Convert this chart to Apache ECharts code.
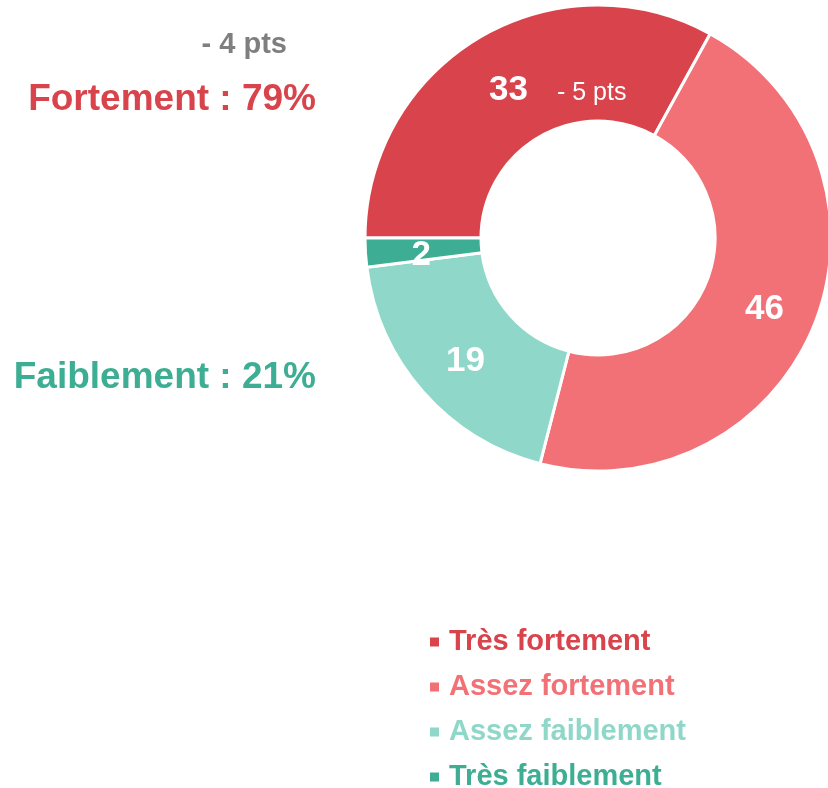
<!DOCTYPE html>
<html>
<head>
<meta charset="utf-8">
<script src="https://cdn.jsdelivr.net/npm/echarts@6/dist/echarts.min.js"></script>
<style>
  html, body { margin: 0; padding: 0; background: #fff; }
  #chart { width: 828px; height: 788px; }
</style>
</head>
<body>
<div id="chart"></div>
<script>
// data
const categories = ['Très fortement', 'Assez fortement', 'Assez faiblement', 'Très faiblement'];
const values = [33, 46, 19, 2];
const colors = ['#D9434B', '#F27176', '#8FD7C8', '#3DAE93'];
const groupLabels = ['Fortement : 79%', 'Faiblement : 21%'];
const deltaTotal = '- 4 pts';
const deltaFirst = '- 5 pts';

const font = '"Liberation Sans", Arial, sans-serif';
const myChart = echarts.init(document.getElementById('chart'));

const option = {
  animation: false,
  legend: {
    orient: 'vertical',
    left: 425,
    top: 621,
    height: 200,
    icon: 'rect',
    itemWidth: 9,
    itemHeight: 9,
    itemGap: 13,
    selectedMode: false,
    itemStyle: { borderWidth: 0 },
    data: categories.map(function (name, i) {
      return {
        name: name,
        textStyle: { color: colors[i] }
      };
    }),
    textStyle: {
      fontFamily: font,
      fontWeight: 'bold',
      fontSize: 29,
      lineHeight: 32,
      padding: [0, 0, 0, 5]
    }
  },
  series: [
    {
      type: 'pie',
      center: [598, 238],
      radius: [117, 233],
      startAngle: 180,
      clockwise: true,
      avoidLabelOverlap: false,
      itemStyle: { borderColor: '#fff', borderWidth: 3 },
      label: {
        position: 'inside',
        formatter: '{c}',
        color: '#fff',
        fontFamily: font,
        fontWeight: 'bold',
        fontSize: 35,
        offset: [1, 6]
      },
      labelLine: { show: false },
      emphasis: { disabled: true },
      data: categories.map(function (name, i) {
        return { name: name, value: values[i], itemStyle: { color: colors[i] } };
      })
    }
  ],
  graphic: [
    {
      type: 'text', x: 287, y: 45, z: 100,
      style: { text: deltaTotal, fill: '#7F7F7F', font: 'bold 29px ' + font, align: 'right', verticalAlign: 'middle' }
    },
    {
      type: 'text', x: 316, y: 100, z: 100,
      style: { text: groupLabels[0], fill: colors[0], font: 'bold 37px ' + font, align: 'right', verticalAlign: 'middle' }
    },
    {
      type: 'text', x: 316, y: 378, z: 100,
      style: { text: groupLabels[1], fill: colors[3], font: 'bold 37px ' + font, align: 'right', verticalAlign: 'middle' }
    },
    {
      type: 'text', x: 557, y: 93, z: 100,
      style: { text: deltaFirst, fill: '#fff', font: '25px ' + font, align: 'left', verticalAlign: 'middle' }
    }
  ]
};

option && myChart.setOption(option);
</script>
</body>
</html>
